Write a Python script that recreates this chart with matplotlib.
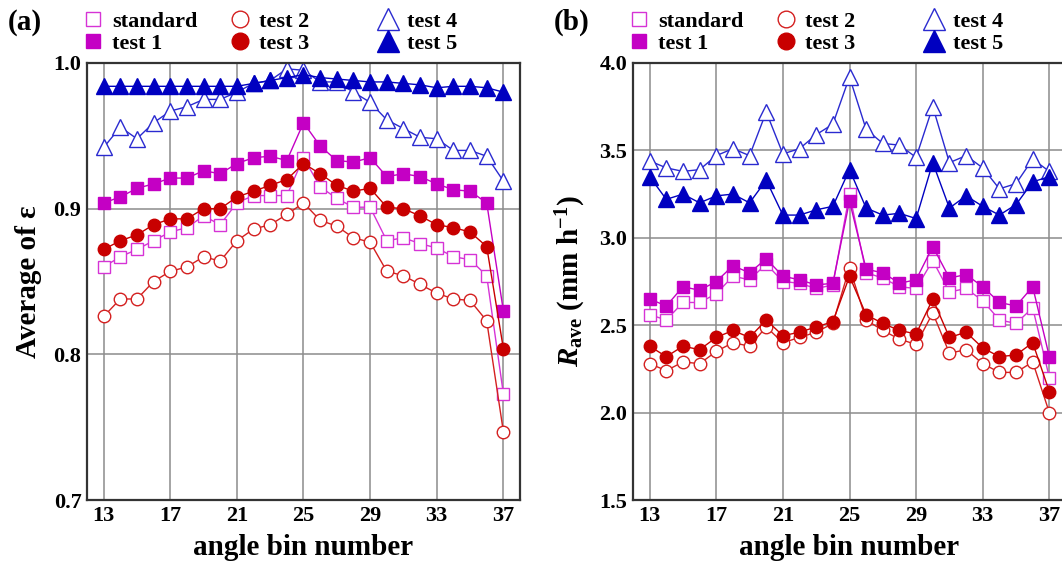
import numpy as np
import matplotlib
matplotlib.use("Agg")
import matplotlib.pyplot as plt

plt.rcParams['font.family'] = ['Liberation Serif', 'DejaVu Serif']
plt.rcParams['font.weight'] = 'bold'
plt.rcParams['mathtext.fontset'] = 'custom'
plt.rcParams['mathtext.rm'] = 'Liberation Serif:bold'
plt.rcParams['mathtext.it'] = 'Liberation Serif:bold:italic'
plt.rcParams['mathtext.bf'] = 'Liberation Serif:bold'

bins = np.arange(13, 38)

# (a) average of epsilon
eps_standard = [0.860, 0.867, 0.872, 0.878, 0.884, 0.887, 0.895, 0.889, 0.904, 0.909, 0.909, 0.909, 0.935,
                0.915, 0.907, 0.901, 0.901, 0.878, 0.880, 0.876, 0.873, 0.867, 0.865, 0.854, 0.773]
eps_test1 = [0.904, 0.908, 0.914, 0.917, 0.921, 0.921, 0.926, 0.924, 0.931, 0.935, 0.936, 0.933, 0.959,
             0.943, 0.933, 0.932, 0.935, 0.922, 0.924, 0.922, 0.917, 0.913, 0.912, 0.904, 0.830]
eps_test2 = [0.826, 0.838, 0.838, 0.850, 0.857, 0.860, 0.867, 0.864, 0.878, 0.886, 0.889, 0.896, 0.904,
             0.892, 0.888, 0.880, 0.877, 0.857, 0.854, 0.848, 0.842, 0.838, 0.837, 0.823, 0.747]
eps_test3 = [0.872, 0.878, 0.882, 0.889, 0.893, 0.893, 0.900, 0.900, 0.908, 0.912, 0.916, 0.920, 0.931,
             0.924, 0.916, 0.912, 0.914, 0.901, 0.900, 0.895, 0.889, 0.887, 0.884, 0.874, 0.804]
eps_test4 = [0.942, 0.956, 0.948, 0.959, 0.967, 0.970, 0.975, 0.975, 0.980, 0.986, 0.988, 0.996, 0.995,
             0.987, 0.987, 0.980, 0.973, 0.961, 0.955, 0.949, 0.948, 0.940, 0.940, 0.936, 0.919]
eps_test5 = [0.984, 0.984, 0.984, 0.984, 0.984, 0.984, 0.984, 0.984, 0.984, 0.986, 0.988, 0.990, 0.992,
             0.990, 0.989, 0.988, 0.987, 0.987, 0.986, 0.985, 0.983, 0.984, 0.984, 0.983, 0.980]

# (b) average rain rate
r_standard = [2.56, 2.53, 2.63, 2.63, 2.68, 2.78, 2.76, 2.85, 2.75, 2.74, 2.71, 2.73, 3.25,
              2.80, 2.77, 2.72, 2.71, 2.87, 2.69, 2.71, 2.64, 2.53, 2.51, 2.60, 2.20]
r_test1 = [2.65, 2.61, 2.72, 2.70, 2.75, 2.84, 2.80, 2.88, 2.78, 2.76, 2.73, 2.74, 3.21,
           2.82, 2.80, 2.74, 2.76, 2.95, 2.77, 2.79, 2.72, 2.63, 2.61, 2.72, 2.32]
r_test2 = [2.28, 2.24, 2.29, 2.28, 2.35, 2.40, 2.38, 2.49, 2.40, 2.43, 2.46, 2.51, 2.83,
           2.53, 2.47, 2.42, 2.39, 2.57, 2.34, 2.36, 2.28, 2.23, 2.23, 2.29, 2.00]
r_test3 = [2.38, 2.32, 2.38, 2.36, 2.43, 2.47, 2.43, 2.53, 2.44, 2.46, 2.49, 2.52, 2.78,
           2.56, 2.51, 2.47, 2.45, 2.65, 2.43, 2.46, 2.37, 2.32, 2.33, 2.40, 2.12]
r_test4 = [3.44, 3.40, 3.38, 3.39, 3.47, 3.51, 3.47, 3.72, 3.48, 3.51, 3.59, 3.65, 3.92,
           3.62, 3.54, 3.53, 3.46, 3.75, 3.43, 3.47, 3.40, 3.28, 3.31, 3.45, 3.38]
r_test5 = [3.35, 3.22, 3.25, 3.20, 3.24, 3.25, 3.20, 3.33, 3.13, 3.13, 3.16, 3.18, 3.39,
           3.17, 3.13, 3.14, 3.11, 3.43, 3.17, 3.24, 3.18, 3.13, 3.19, 3.32, 3.35]

labels = ['standard', 'test 1', 'test 2', 'test 3', 'test 4', 'test 5']
styles = [
    dict(marker='s', color='#d633d6', mfc='white'),
    dict(marker='s', color='#c400c4', mfc='#c400c4'),
    dict(marker='o', color='#d42020', mfc='white'),
    dict(marker='o', color='#c80000', mfc='#c80000'),
    dict(marker='^', color='#2a2ad0', mfc='white'),
    dict(marker='^', color='#0000c0', mfc='#0000c0'),
]
plot_ms = [8, 8, 9, 9, 11.5, 11.5]
legend_ms = [10, 10, 12, 12, 16, 16]

W, H = 1062, 562
fig = plt.figure(figsize=(W / 100, H / 100), dpi=100)
ax_a = fig.add_axes([87 / W, 1 - 500 / H, 433 / W, 437 / H])
ax_b = fig.add_axes([633 / W, 1 - 500 / H, 433 / W, 437 / H])

panels = [
    (ax_a, 87, [eps_standard, eps_test1, eps_test2, eps_test3, eps_test4, eps_test5],
     (0.7, 1.0), [0.7, 0.8, 0.9, 1.0], 'Average of ε', '(a)'),
    (ax_b, 633, [r_standard, r_test1, r_test2, r_test3, r_test4, r_test5],
     (1.5, 4.0), [1.5, 2.0, 2.5, 3.0, 3.5, 4.0], r'$R_{\rm ave}$ (mm h$^{-1}$)', '(b)'),
]

col_offsets = [6, 153, 301]   # marker centre of each legend column, px right of axes

for ax, left_px, series, ylim, yticks, ylabel, tag in panels:
    for vals, st, ms, lab in zip(series, styles, plot_ms, labels):
        ax.plot(bins, vals, lw=1.0, mew=1.0, ms=ms, label=lab, **st)
    ax.set_xlim(12, 38)
    ax.set_ylim(*ylim)
    ax.set_xticks(np.arange(13, 38, 4))
    ax.set_yticks(yticks)
    ax.yaxis.set_major_formatter(matplotlib.ticker.FormatStrFormatter('%.1f'))
    ax.grid(True, color='#8c8c8c', lw=1.1)
    ax.set_axisbelow(True)
    ax.tick_params(length=0, labelsize=16, pad=4)
    for s in ax.spines.values():
        s.set_linewidth(1.6)
        s.set_color('#333333')
    ax.set_xlabel('angle bin number', fontsize=21, fontweight='bold', labelpad=6)
    ax.set_ylabel(ylabel, fontsize=21, fontweight='bold', labelpad=8)
    fig.text((left_px - 79) / W, 1 - 22 / H, tag, fontsize=21, fontweight='bold', va='center')

    # one legend per column, so the columns sit where the reference has them
    for k, off in enumerate(col_offsets):
        idx = [2 * k, 2 * k + 1]
        lh = [plt.Line2D([], [], ls='none', mew=1.0, ms=legend_ms[i], **styles[i]) for i in idx]
        fig.legend(lh, [labels[i] for i in idx], loc='center left',
                   bbox_to_anchor=((left_px + off - 11) / W, 1 - 32.5 / H),
                   frameon=False, fontsize=16, handlelength=1.0, handletextpad=0.35,
                   labelspacing=0.05, borderpad=0, borderaxespad=0)

fig.savefig('out.png', dpi=100)
